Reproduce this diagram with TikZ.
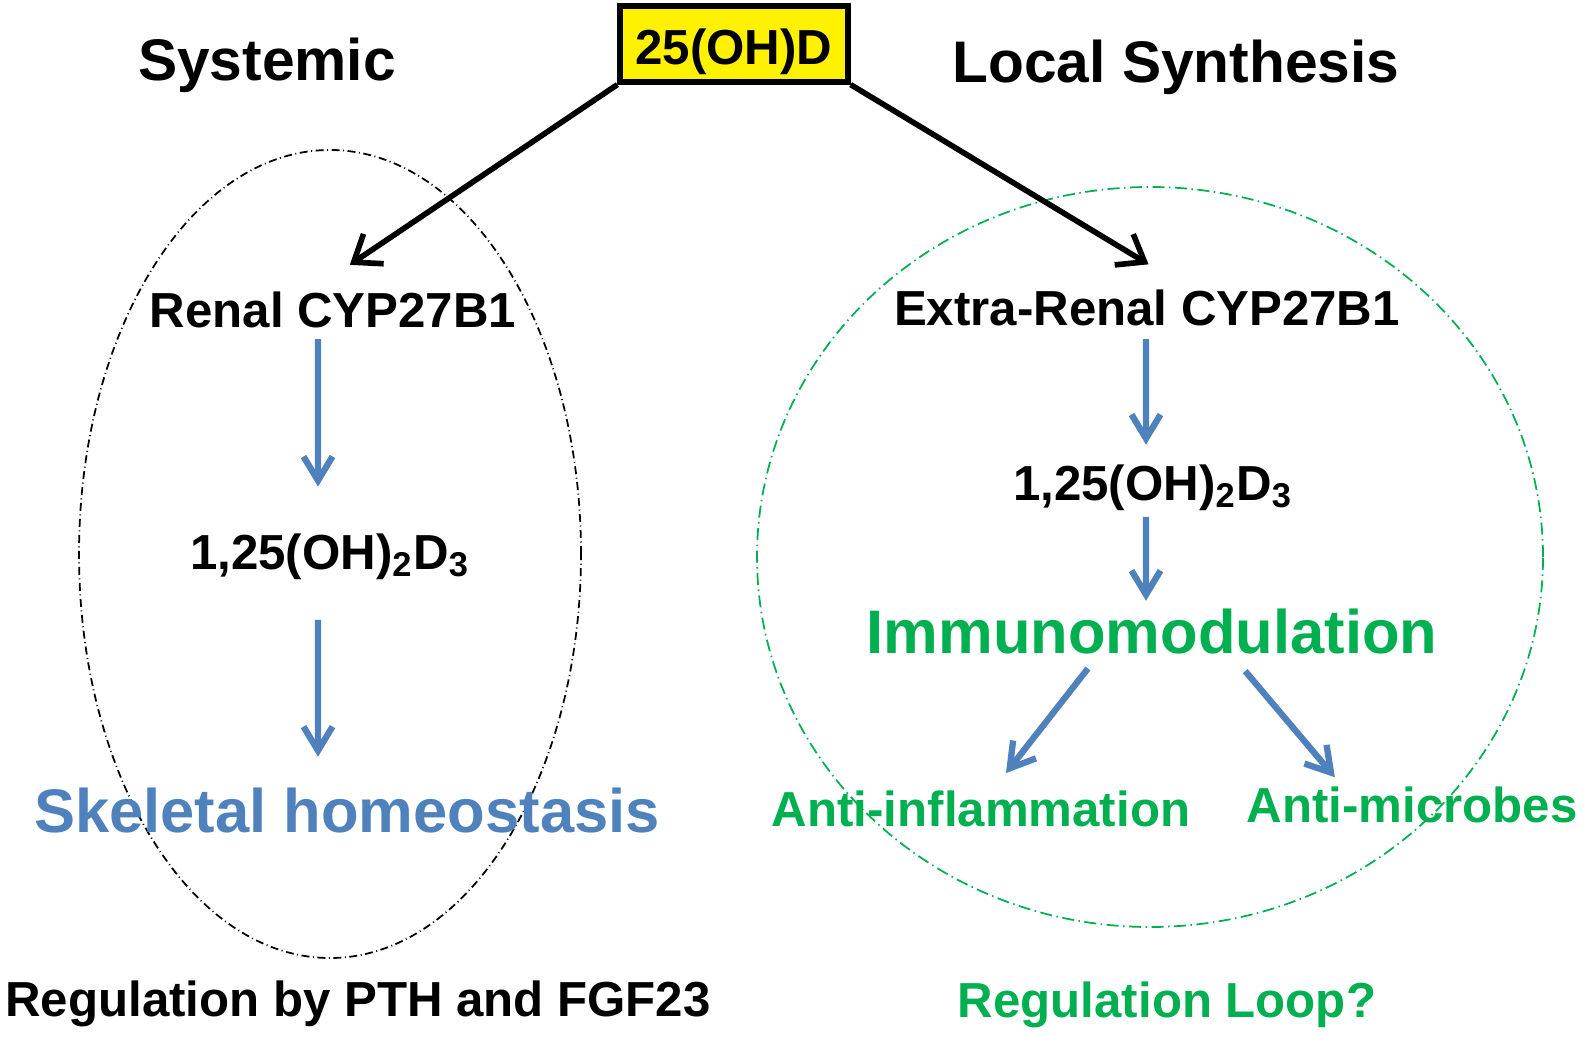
\documentclass[tikz,border=0pt]{standalone}
\usepackage{fontspec}
\setmainfont{Liberation Sans}
\usepackage{xcolor}
\usetikzlibrary{arrows.meta}
\definecolor{vdgreen}{HTML}{00B050}
\definecolor{vdblue}{HTML}{4F81BD}
\tikzset{
	lbl/.style={inner sep=0pt, anchor=base, font=\bfseries\fontsize{14}{16}\selectfont},
	head/.style={lbl, font=\bfseries\fontsize{16.7}{19}\selectfont},
	big/.style={lbl, font=\bfseries\fontsize{17.5}{20}\selectfont},
	blackarr/.style={line width=1.6pt, -{Straight Barb[length=2.4mm,width=3.6mm]}},
	bluearr/.style={vdblue, line width=1.8pt, -{Straight Barb[length=2.4mm,width=2.9mm]}},
	dashdot/.style={line width=0.5pt, dash pattern=on 0.8mm off 0.35mm on 0.1mm off 0.35mm},
}
\begin{document}
\begin{tikzpicture}
				\useasboundingbox (0,0) rectangle (15.94,-10.37);
				% Ellipses
				\draw[dashdot, black] (3.30,-5.54) ellipse [x radius=2.51, y radius=4.04];
				\draw[dashdot, vdgreen, dash pattern=on 1.2mm off 0.45mm on 0.15mm off 0.45mm] (11.50,-5.57) ellipse [x radius=3.93, y radius=3.70];
				
				\node (sys) [head] at (2.67,-0.81) {Systemic};
				\node (loc) [head] at (11.76,-0.83) {Local Synthesis};
				\node (vitd) [draw, fill=yellow, line width=1.5pt, anchor=base, font=\bfseries\fontsize{14}{16}\selectfont, text height=0.53cm, text depth=0.11cm, inner xsep=0pt, inner ysep=0.06cm, minimum width=2.28cm] at (7.34,-0.65) {25(OH)D};
				\node (ren) [lbl] at (3.33,-3.28) {Renal CYP27B1};
				\node (dl) [lbl] at (3.30,-5.69) {1,25(OH)\textsubscript{2}D\textsubscript{3}};
				\node (skel) [big, vdblue] at (3.47,-8.32) {Skeletal homeostasis};
				\node (regl) [lbl] at (3.58,-10.16) {Regulation by PTH and FGF23};
				\node (ext) [lbl] at (11.47,-3.26) {Extra-Renal CYP27B1};
				\node (dr) [lbl] at (11.53,-5.00) {1,25(OH)\textsubscript{2}D\textsubscript{3}};
				\node (imm) [big, vdgreen] at (11.52,-6.53) {Immunomodulation};
				\node (infl) [lbl, vdgreen] at (9.81,-8.26) {Anti-inflammation};
				\node (micr) [lbl, vdgreen] at (14.12,-8.22) {Anti-microbes};
				\node (loop) [lbl, vdgreen] at (11.67,-10.17) {Regulation Loop?};
				
				% Arrows
				\draw[blackarr, shorten >=4.8mm] (vitd.south west) -- ([xshift=-2.3mm]ren.north);
				\draw[blackarr, shorten >=4.9mm] (vitd.south east) -- ([xshift=4.35mm]ext.north);
				\draw[bluearr, shorten <=1mm, shorten >=4.6mm] ([xshift=-1.5mm]ren.south) -- ([xshift=-1.2mm]dl.north);
				\draw[bluearr, shorten <=4mm, shorten >=3mm] ([xshift=-1.2mm]dl.south) -- ([xshift=-2.9mm]skel.north);
				\draw[bluearr, shorten <=1.2mm, shorten >=1.9mm] ([xshift=-0.1mm]ext.south) -- ([xshift=-0.7mm]dr.north);
				\draw[bluearr, shorten <=0.6mm, shorten >=0.7mm] ([xshift=-0.7mm]dr.south) -- ([xshift=-0.6mm]imm.north);
				\draw[bluearr, shorten <=1.8mm, shorten >=2.1mm] ([xshift=-5.3mm]imm.south) -- ([xshift=1.2mm]infl.north);
				\draw[bluearr, shorten <=2.2mm, shorten >=1.1mm] ([xshift=7.9mm]imm.south) -- ([xshift=-7mm]micr.north);
\end{tikzpicture}
\end{document}
